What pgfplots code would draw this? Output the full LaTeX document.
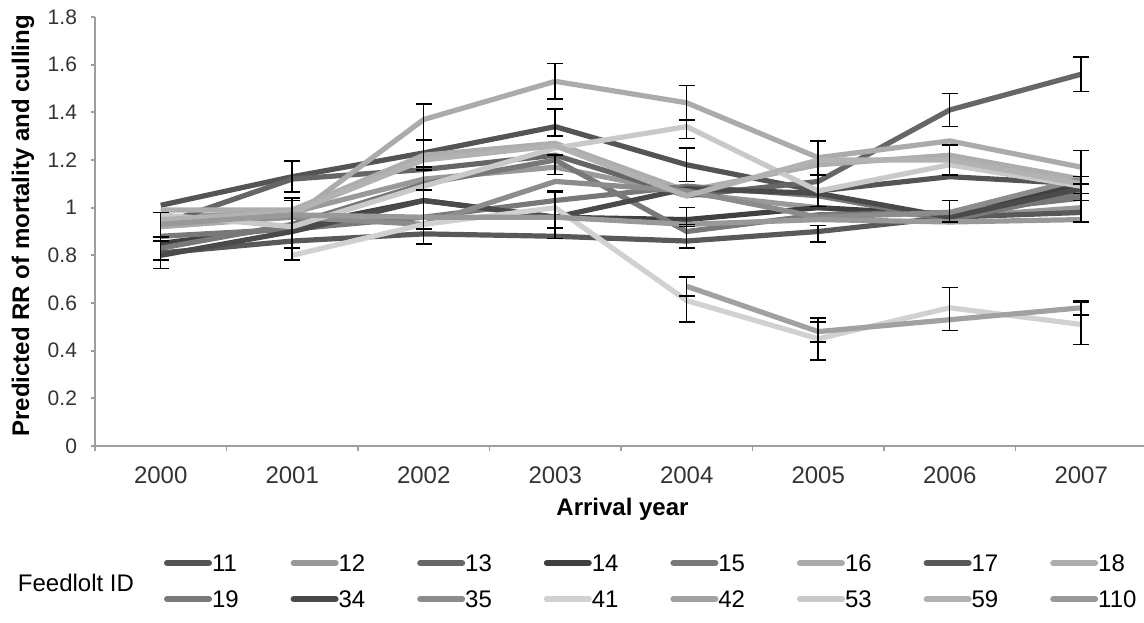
\documentclass[border=0pt]{standalone}
\usepackage{pgfplots}
\pgfplotsset{compat=1.18}
\usepackage{pgfplotstable}
\usepackage{fontspec}
\setmainfont{Liberation Sans}
\definecolor{axisgray}{gray}{0.62}
\definecolor{c11}{gray}{0.33}
\definecolor{c12}{gray}{0.60}
\definecolor{c13}{gray}{0.40}
\definecolor{c14}{gray}{0.25}
\definecolor{c15}{gray}{0.47}
\definecolor{c16}{gray}{0.67}
\definecolor{c17}{gray}{0.35}
\definecolor{c18}{gray}{0.68}
\definecolor{c19}{gray}{0.47}
\definecolor{c34}{gray}{0.29}
\definecolor{c35}{gray}{0.55}
\definecolor{c41}{gray}{0.82}
\definecolor{c42}{gray}{0.63}
\definecolor{c53}{gray}{0.79}
\definecolor{c59}{gray}{0.70}
\definecolor{c110}{gray}{0.60}
\pgfplotstableread{
x s11 s12 s13 s14 s15 s16 s17 s18 s19 s34 s35 s41 s42 s53 s59 s110
0 1.01 0.96 0.93 0.85 0.83 0.92 0.81 0.99 0.88 0.80 0.94 nan nan 0.97 0.95 0.93
1 1.13 0.98 1.12 0.92 0.93 0.96 0.86 0.99 0.91 0.90 0.96 0.80 nan 0.92 0.98 0.97
2 1.23 1.12 1.16 1.03 1.10 1.37 0.89 1.22 0.96 1.03 0.93 0.93 nan 1.09 1.20 0.96
3 1.34 1.17 1.22 0.96 1.20 1.53 0.88 1.27 1.03 0.96 1.11 1.00 nan 1.25 1.26 0.96
4 1.18 1.06 1.05 0.95 0.90 1.44 0.86 1.07 1.09 1.08 1.07 0.61 0.67 1.34 1.05 0.93
5 1.07 1.00 1.11 1.00 0.97 1.21 0.90 1.18 1.05 1.06 0.96 0.45 0.48 1.07 1.20 0.95
6 1.13 0.96 1.41 0.97 0.98 1.28 0.96 1.22 0.95 0.96 0.98 0.58 0.53 1.18 1.20 0.94
7 1.10 1.00 1.56 1.10 1.04 1.17 0.98 1.12 1.06 1.08 1.12 0.51 0.58 1.09 1.10 0.95
}\data
\pgfplotstableread{
x y e
0 0.92 0.06
0 0.81 0.065
0 0.83 0.05
1 1.13 0.065
1 0.93 0.10
1 0.91 0.13
2 1.36 0.075
2 1.221 0.063
2 0.961 0.113
2 1.04 0.13
3 1.53 0.075
3 1.357 0.057
3 1.18 0.04
3 0.99 0.075
3 0.97 0.10
4 1.44 0.072
4 1.33 0.04
4 1.18 0.07
4 0.96 0.04
4 0.88 0.05
4 0.67 0.04
4 0.615 0.095
5 1.21 0.07
5 1.07 0.065
5 0.89 0.035
5 0.487 0.05
5 0.44 0.08
6 1.41 0.07
6 1.20 0.063
6 0.985 0.045
6 0.575 0.09
7 1.56 0.073
7 1.17 0.07
7 1.0 0.06
7 1.08 0.05
7 0.58 0.03
7 0.515 0.09
}\errs
\newcommand\lgd[1]{\makebox[39.3pt][l]{#1}}
\begin{document}
\begin{tikzpicture}
\path[use as bounding box] (-47.5pt,-88pt) rectangle (524.5pt,223pt);
\begin{axis}[
  at={(0,0)}, anchor=south west, scale only axis,
  width=526pt, height=214.5pt,
  xmin=-0.5, xmax=7.5, ymin=0, ymax=1.8,
  axis x line=bottom, axis y line=left,
  axis line style={-, draw=axisgray, line width=0.9pt},
  xtick={0,1,2,3,4,5,6,7},
  xticklabels={2000,2001,2002,2003,2004,2005,2006,2007},
  minor xtick={-0.5,0.5,1.5,2.5,3.5,4.5,5.5,6.5,7.5},
  every major x tick/.append style={draw=none},
  tick align=outside,
  major tick length=2pt, minor tick length=2.5pt,
  tick style={draw=axisgray, line width=0.9pt},
  ytick={0,0.2,0.4,0.6,0.8,1,1.2,1.4,1.6,1.8},
  yticklabels={0,0.2,0.4,0.6,0.8,1,1.2,1.4,1.6,1.8},
  xticklabel style={font=\fontsize{12}{14}\selectfont, text=black!80, anchor=base, yshift=-16.8pt},
  yticklabel style={font=\fontsize{10.5}{12}\selectfont, text=black!80, anchor=east, xshift=-3.5pt},
  xlabel={\textbf{Arrival year}},
  ylabel={\textbf{Predicted RR of mortality and culling}},
  label style={font=\fontsize{12}{14}\selectfont},
  xlabel style={at={(axis description cs:0.5014,-0.161)}, anchor=base},
  ylabel style={at={(axis description cs:-0.0684,0.513)}, anchor=center},
  no markers,
  unbounded coords=jump,
  every axis plot/.append style={line width=2.6pt, line join=round},
  legend columns=8,
  legend cell align=left,
  legend style={at={(axis description cs:0,0)}, anchor=north west,
    xshift=34.5pt, yshift=-53.8pt, draw=none, fill=none,
    inner sep=0pt, outer sep=0pt, column sep=0pt, row sep=9pt,
    font=\fontsize{12}{14}\selectfont,
    nodes={inner sep=0pt, outer sep=0pt, text height=9pt, text depth=0pt}},
  legend image code/.code={\draw[line width=3pt, line cap=round] (1.5pt,-0.2pt) -- (22.5pt,-0.2pt);},
]
\addplot[c11] table[x=x,y=s11]{\data}; \addlegendentry{\lgd{11}}
\addplot[c12] table[x=x,y=s12]{\data}; \addlegendentry{\lgd{12}}
\addplot[c13] table[x=x,y=s13]{\data}; \addlegendentry{\lgd{13}}
\addplot[c14] table[x=x,y=s14]{\data}; \addlegendentry{\lgd{14}}
\addplot[c15] table[x=x,y=s15]{\data}; \addlegendentry{\lgd{15}}
\addplot[c16] table[x=x,y=s16]{\data}; \addlegendentry{\lgd{16}}
\addplot[c17] table[x=x,y=s17]{\data}; \addlegendentry{\lgd{17}}
\addplot[c18] table[x=x,y=s18]{\data}; \addlegendentry{\lgd{18}}
\addplot[c19] table[x=x,y=s19]{\data}; \addlegendentry{\lgd{19}}
\addplot[c34] table[x=x,y=s34]{\data}; \addlegendentry{\lgd{34}}
\addplot[c35] table[x=x,y=s35]{\data}; \addlegendentry{\lgd{35}}
\addplot[c41] table[x=x,y=s41]{\data}; \addlegendentry{\lgd{41}}
\addplot[c42] table[x=x,y=s42]{\data}; \addlegendentry{\lgd{42}}
\addplot[c53] table[x=x,y=s53]{\data}; \addlegendentry{\lgd{53}}
\addplot[c59] table[x=x,y=s59]{\data}; \addlegendentry{\lgd{59}}
\addplot[c110] table[x=x,y=s110]{\data}; \addlegendentry{\lgd{110}}
\addplot[forget plot, draw=none, mark=none,
  error bars/.cd, y dir=both, y explicit, error mark=-,
  error bar style={draw=black, line width=0.75pt},
  error mark options={draw=black, rotate=90, mark size=4pt, line width=0.75pt}]
  table[x=x,y=y,y error=e]{\errs};
\end{axis}
\node[font=\fontsize{12}{14}\selectfont, anchor=center] at (-9.5pt,-68.5pt) {Feedlolt ID};
\end{tikzpicture}
\end{document}
